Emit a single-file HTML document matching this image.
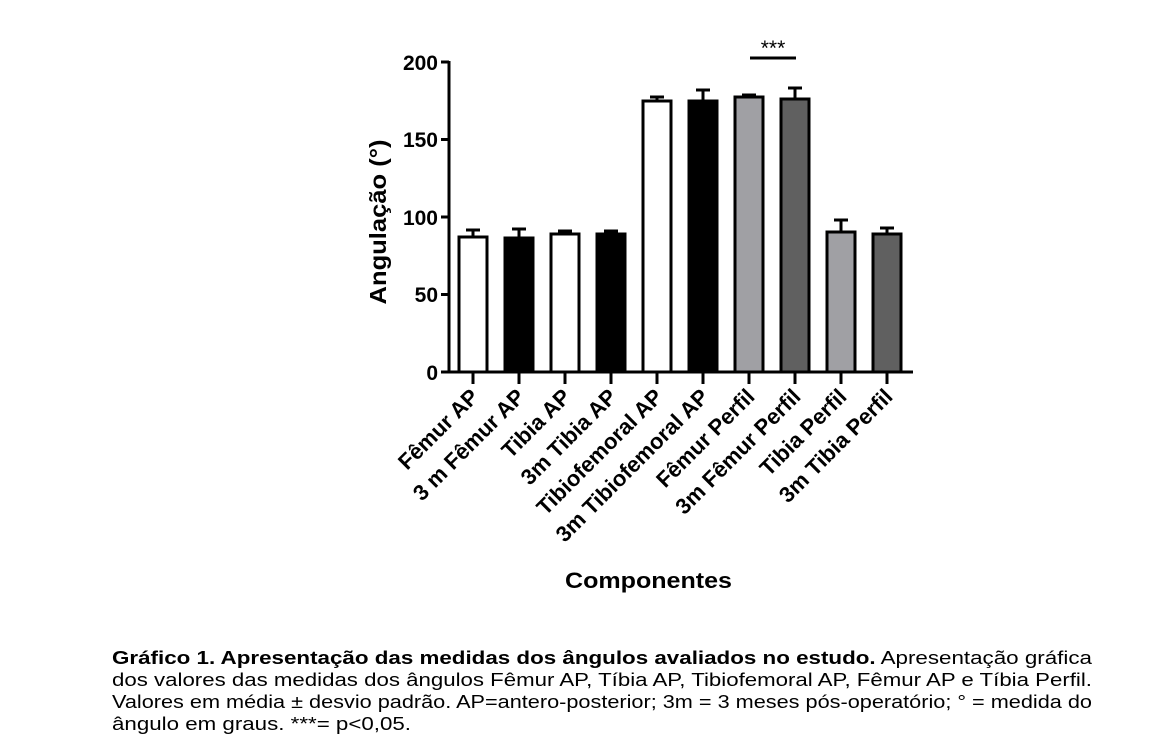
<!DOCTYPE html>
<html><head><meta charset="utf-8"><style>
html,body{margin:0;padding:0;background:#fff;}
svg{display:block;}
text{font-family:"Liberation Sans",Arial,sans-serif;}
</style></head><body>
<svg width="1168" height="745" viewBox="0 0 1168 745" xmlns="http://www.w3.org/2000/svg">
<rect width="1168" height="745" fill="#fff"/>
<g stroke="#000" stroke-width="3" fill="none">
<line x1="449" y1="61" x2="449" y2="373.5"/>
<line x1="447.5" y1="372" x2="913" y2="372"/>
<line x1="441" y1="62" x2="449" y2="62"/>
<line x1="441" y1="139.5" x2="449" y2="139.5"/>
<line x1="441" y1="217" x2="449" y2="217"/>
<line x1="441" y1="294.5" x2="449" y2="294.5"/>
<line x1="441" y1="372" x2="449" y2="372"/>
</g>
<g font-weight="bold" font-size="21" text-anchor="end" fill="#000">
<text x="438" y="70">200</text>
<text x="438" y="147">150</text>
<text x="438" y="225">100</text>
<text x="438" y="302">50</text>
<text x="438" y="380">0</text>
</g>
<text transform="translate(386,222) rotate(-90)" text-anchor="middle" font-weight="bold" font-size="23" textLength="165" lengthAdjust="spacingAndGlyphs">Angulação (°)</text>
<g stroke="#000" stroke-width="3">
<rect x="459" y="237" width="28" height="135" fill="#fff"/>
<rect x="505" y="238" width="28" height="134" fill="#000"/>
<rect x="551" y="234" width="28" height="138" fill="#fff"/>
<rect x="597" y="234" width="28" height="138" fill="#000"/>
<rect x="643" y="101" width="28" height="271" fill="#fff"/>
<rect x="689" y="101" width="28" height="271" fill="#000"/>
<rect x="735" y="97" width="28" height="275" fill="#a0a0a4"/>
<rect x="781" y="99" width="28" height="273" fill="#606060"/>
<rect x="827" y="232" width="28" height="140" fill="#a0a0a4"/>
<rect x="873" y="234" width="28" height="138" fill="#606060"/>
</g>
<g stroke="#000" stroke-width="3">
<line x1="473" y1="237" x2="473" y2="230"/><line x1="466" y1="230" x2="480" y2="230"/>
<line x1="519" y1="238" x2="519" y2="229"/><line x1="512" y1="229" x2="526" y2="229"/>
<line x1="565" y1="234" x2="565" y2="231"/><line x1="558" y1="231" x2="572" y2="231"/>
<line x1="611" y1="234" x2="611" y2="231"/><line x1="604" y1="231" x2="618" y2="231"/>
<line x1="657" y1="101" x2="657" y2="97"/><line x1="650" y1="97" x2="664" y2="97"/>
<line x1="703" y1="101" x2="703" y2="90"/><line x1="696" y1="90" x2="710" y2="90"/>
<line x1="749" y1="97" x2="749" y2="95"/><line x1="742" y1="95" x2="756" y2="95"/>
<line x1="795" y1="99" x2="795" y2="88"/><line x1="788" y1="88" x2="802" y2="88"/>
<line x1="841" y1="232" x2="841" y2="220"/><line x1="834" y1="220" x2="848" y2="220"/>
<line x1="887" y1="234" x2="887" y2="228"/><line x1="880" y1="228" x2="894" y2="228"/>
<line x1="473" y1="372" x2="473" y2="384"/>
<line x1="519" y1="372" x2="519" y2="384"/>
<line x1="565" y1="372" x2="565" y2="384"/>
<line x1="611" y1="372" x2="611" y2="384"/>
<line x1="657" y1="372" x2="657" y2="384"/>
<line x1="703" y1="372" x2="703" y2="384"/>
<line x1="749" y1="372" x2="749" y2="384"/>
<line x1="795" y1="372" x2="795" y2="384"/>
<line x1="841" y1="372" x2="841" y2="384"/>
<line x1="887" y1="372" x2="887" y2="384"/>
<line x1="750" y1="58" x2="796" y2="58"/>
</g>
<text x="773" y="55" text-anchor="middle" font-size="21">***</text>
<g font-weight="bold" font-size="22" text-anchor="end">
<text transform="translate(480,398) rotate(-45)">Fêmur AP</text>
<text transform="translate(526,398) rotate(-45)">3 m Fêmur AP</text>
<text transform="translate(572,398) rotate(-45)">Tibia AP</text>
<text transform="translate(618,398) rotate(-45)">3m Tibia AP</text>
<text transform="translate(664,398) rotate(-45)">Tibiofemoral AP</text>
<text transform="translate(710,398) rotate(-45)">3m Tibiofemoral AP</text>
<text transform="translate(756,398) rotate(-45)">Fêmur Perfil</text>
<text transform="translate(802,398) rotate(-45)">3m Fêmur Perfil</text>
<text transform="translate(848,398) rotate(-45)">Tibia Perfil</text>
<text transform="translate(894,398) rotate(-45)">3m Tibia Perfil</text>
</g>
<text x="565" y="588" font-weight="bold" font-size="22" textLength="167" lengthAdjust="spacingAndGlyphs">Componentes</text>
<g font-size="18">
<text x="112" y="664" textLength="980" lengthAdjust="spacingAndGlyphs"><tspan font-weight="bold">Gráfico 1. Apresentação das medidas dos ângulos avaliados no estudo.</tspan> Apresentação gráfica</text>
<text x="112" y="686" textLength="980" lengthAdjust="spacingAndGlyphs">dos valores das medidas dos ângulos Fêmur AP, Tíbia AP, Tibiofemoral AP, Fêmur AP e Tíbia Perfil.</text>
<text x="112" y="708" textLength="980" lengthAdjust="spacingAndGlyphs">Valores em média ± desvio padrão. AP=antero-posterior; 3m = 3 meses pós-operatório; ° = medida do</text>
<text x="112" y="730" textLength="299" lengthAdjust="spacingAndGlyphs">ângulo em graus. ***= p&lt;0,05.</text>
</g>
</svg>
</body></html>
